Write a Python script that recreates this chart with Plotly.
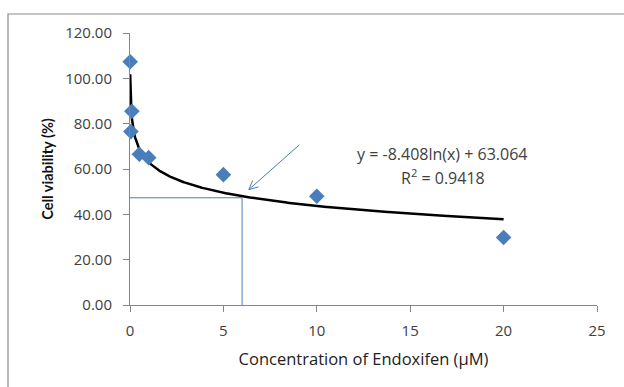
import numpy as np
import plotly.graph_objects as go

# Data
conc = [0.01, 0.1, 0.05, 0.5, 1, 5, 10, 20]
viability = [107.3, 85.5, 76.5, 66.5, 65.0, 57.5, 48.0, 29.8]

# Logarithmic trendline (as displayed): y = a*ln(x) + b
trend_a = -8.408
trend_b = 63.064
trend_r2 = 0.9418
trend_range = [0.01, 20]

# IC50 guide lines
ic50_x = 6.0
ic50_y = 47.3

x_ticks = [0, 5, 10, 15, 20, 25]
y_ticks = [0, 20, 40, 60, 80, 100, 120]

blue = "#4A7EBB"
font_family = "'Open Sans', Lato, sans-serif"

tx = np.linspace(trend_range[0], trend_range[1], 600)
ty = trend_a * np.log(tx) + trend_b

fig = go.Figure()
fig.add_trace(go.Scatter(x=tx, y=ty, mode="lines",
                         line=dict(color="black", width=2.5), showlegend=False, hoverinfo="skip"))
fig.add_trace(go.Scatter(x=[0, ic50_x, ic50_x], y=[ic50_y, ic50_y, 0], mode="lines",
                         line=dict(color=blue, width=1), showlegend=False, hoverinfo="skip"))
fig.add_trace(go.Scatter(x=conc, y=viability, mode="markers",
                         marker=dict(symbol="diamond", size=12, color=blue),
                         showlegend=False, cliponaxis=False))

# Arrow (open V head) drawn via pixel geometry
L, R, T, B = 130, 27, 33, 82
W, H = 624, 387
pw, ph = W - L - R, H - T - B
xr, yr = [0, 25], [0, 120]
def to_px(x, y):
    return (L + (x - xr[0]) / (xr[1] - xr[0]) * pw, T + (yr[1] - y) / (yr[1] - yr[0]) * ph)
def to_data(px, py):
    return (xr[0] + (px - L) / pw * (xr[1] - xr[0]), yr[1] - (py - T) / ph * (yr[1] - yr[0]))

arrow_start = (9.07, 70.7)
arrow_end = (6.36, 50.9)
sx, sy = to_px(*arrow_start)
ex, ey = to_px(*arrow_end)
ang = np.arctan2(sy - ey, sx - ex)
hl = 10
head = []
for d in (0.45, -0.45):
    hx, hy = ex + hl * np.cos(ang + d), ey + hl * np.sin(ang + d)
    head.append(to_data(hx, hy))
fig.add_shape(type="line", x0=arrow_start[0], y0=arrow_start[1], x1=arrow_end[0], y1=arrow_end[1],
              line=dict(color=blue, width=1))
for hx, hy in head:
    fig.add_shape(type="line", x0=arrow_end[0], y0=arrow_end[1], x1=hx, y1=hy,
                  line=dict(color=blue, width=1))

# Outer chart border
fig.add_shape(type="rect", xref="paper", yref="paper",
              x0=(8 - L) / pw, x1=1.5, y0=-0.6, y1=1 + (T - 14) / ph,
              line=dict(color="#8c8c8c", width=1.2), layer="below")

eq_font = dict(family=font_family, size=16, color="#404040")
fig.add_annotation(x=16.75, y=66.6, text="y = -8.408ln(x) + 63.064",
                   showarrow=False, font=eq_font)
fig.add_annotation(x=16.75, y=56.6, text="R<sup>2</sup> = %.4f" % trend_r2,
                   showarrow=False, font=eq_font)

fig.update_layout(
    width=W, height=H,
    margin=dict(l=L, r=R, t=T, b=B),
    plot_bgcolor="white", paper_bgcolor="white",
    font=dict(family=font_family, color="#404040"),
    xaxis=dict(range=xr, tickvals=x_ticks, showgrid=False, zeroline=False,
               showline=True, linecolor="#868686", linewidth=1,
               ticks="outside", ticklen=6, tickcolor="#868686",
               ticklabelstandoff=6,
               tickfont=dict(size=15, color="#404040"),
               title=dict(text="Concentration of Endoxifen (µM)",
                          font=dict(size=16.5, color="#222222"), standoff=14)),
    yaxis=dict(range=yr, tickvals=y_ticks, tickformat=".2f", showgrid=False, zeroline=False,
               showline=True, linecolor="#868686", linewidth=1,
               ticks="outside", ticklen=6, tickcolor="#868686",
               ticklabelstandoff=8,
               tickfont=dict(size=15, color="#404040"),
               title=dict(text="<b>Cell viability (%)</b>",
                          font=dict(family="Lato, sans-serif", size=14.5, color="#111111"),
                          standoff=8)),
)

fig.write_html("out.html")
